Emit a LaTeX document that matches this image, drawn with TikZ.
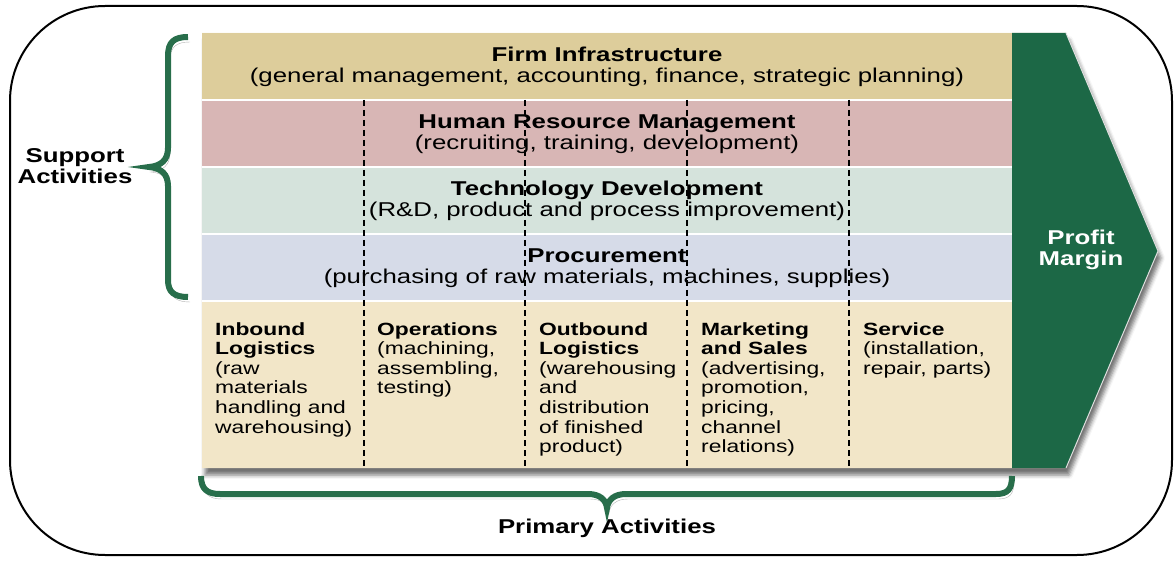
\documentclass[tikz,border=0pt]{standalone}
\usepackage{fontspec}
\setmainfont{Liberation Sans}[FakeStretch=1.29]
\usetikzlibrary{shadows.blur}
\definecolor{firmtan}{RGB}{221,205,155}
\definecolor{hrmrose}{RGB}{216,182,181}
\definecolor{techmint}{RGB}{213,227,220}
\definecolor{proclav}{RGB}{214,219,232}
\definecolor{primcream}{RGB}{242,230,200}
\definecolor{margingreen}{RGB}{28,104,70}
\definecolor{bracegreen}{RGB}{40,110,75}

\begin{document}
\begin{tikzpicture}[x=1pt, y=-1pt,
	headtext/.style={align=center, inner sep=0pt, font=\fontsize{20}{20.4}\selectfont},
	primtext/.style={align=left, anchor=north west, inner sep=0pt, font=\fontsize{17.7}{19.6}\selectfont},
	sidetext/.style={align=center, inner sep=0pt, font=\bfseries\fontsize{20}{21}\selectfont},
	divider/.style={dash pattern=on 6pt off 4pt, line width=1.3pt},
	brace/.style={line width=6pt, color=bracegreen, preaction={draw=black, opacity=.3, transform canvas={shift={(2pt,-5pt)}}}}]
			%%%%% START %%%%%
			
			\useasboundingbox (0,0) rectangle (1176,561);
			\draw[line width=2pt, rounded corners=95pt] (10,6) rectangle (1172,555);
			
			\path[fill=primcream, blur shadow={shadow xshift=3pt, shadow yshift=-7pt, shadow blur radius=4pt, shadow opacity=55}] (202,33) -- (1066,33) -- (1158,251) -- (1066,468) -- (202,468) -- cycle;
			
			\fill[firmtan] (202,33) rectangle (1012,100);
			\fill[hrmrose] (202,100) rectangle (1012,167);
			\fill[techmint] (202,167) rectangle (1012,234);
			\fill[proclav] (202,234) rectangle (1012,301);
			\fill[primcream] (202,301) rectangle (1012,468);
			\foreach \y in {100,167,234,301}
				\draw[white, line width=1.5pt] (202,\y) -- (1012,\y);
			\foreach \x in {364,525,687,849}
				\draw[divider] (\x,100) -- (\x,468);
			
			\fill[margingreen] (1012,33) -- (1066,33) -- (1158,251) -- (1066,468) -- (1012,468) -- cycle;
			\draw[white!75!gray, line width=1pt] (1066,33) -- (1158,251) -- (1066,468);
			
			\node[headtext] (firm) at (607,67) {\textbf{Firm Infrastructure}\\(general management, accounting, finance, strategic planning)};
			\node[headtext] (hrm) at (607,134) {\textbf{Human Resource Management}\\(recruiting, training, development)};
			\node[headtext] (tech) at (607,201) {\textbf{Technology Development}\\(R\&D, product and process improvement)};
			\node[headtext] (proc) at (607,268) {\textbf{Procurement}\\(purchasing of raw materials, machines, supplies)};
			
			\node[primtext] (inbound) at (215,322) {\textbf{Inbound}\\\textbf{Logistics}\\(raw\\materials\\handling and\\warehousing)};
			\node[primtext] (operations) at (377,322) {\textbf{Operations}\\(machining,\\assembling,\\testing)};
			\node[primtext] (outbound) at (539,322) {\textbf{Outbound}\\\textbf{Logistics}\\(warehousing\\and\\distribution\\of finished\\product)};
			\node[primtext] (marketing) at (701,322) {\textbf{Marketing}\\\textbf{and Sales}\\(advertising,\\promotion,\\pricing,\\channel\\relations)};
			\node[primtext] (service) at (863,322) {\textbf{Service}\\(installation,\\repair, parts)};
			
			\node[sidetext, text=white] (profit) at (1081,250) {Profit\\Margin};
			
			\draw[brace] (188,37) .. controls (174,37) and (168,42) .. (168,56) -- (168,148) .. controls (168,160) and (161,166) .. (149,167) .. controls (161,168) and (168,174) .. (168,186) -- (168,280) .. controls (168,292) and (174,297) .. (188,297);
			\node[sidetext] (support) at (75,166) {Support\\Activities};
			
			\draw[brace] (201,476) .. controls (201,489) and (207,494) .. (220,494) -- (588,494) .. controls (600,494) and (606,500) .. (607,508) .. controls (608,500) and (614,494) .. (626,494) -- (996,494) .. controls (1008,494) and (1012,489) .. (1012,476);
			\node[sidetext, anchor=base] (primary) at (607,533) {Primary Activities};
			
			%%%%% END %%%%%
\end{tikzpicture}
\end{document}
